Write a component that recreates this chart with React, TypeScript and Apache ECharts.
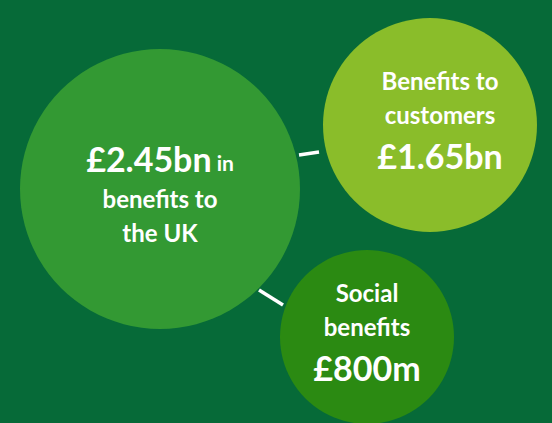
import React, { useEffect, useRef } from "react";
import * as echarts from "echarts";

const names = ["uk", "customers", "social"];
const centersX = [160, 430, 367];
const centersY = [189, 125, 337];
const radii = [140, 107, 87];
const colors = ["#339933", "#8abd2a", "#2b8a12"];
const labelLines = [
  ["{big|£2.45bn}{small| in}", "{mid|benefits to}", "{mid|the UK}"],
  ["{mid|Benefits to}", "{mid|customers}", "{big|£1.65bn}"],
  ["{mid|Social}", "{mid|benefits}", "{big|£800m}"],
];
const labelOffsets = [[0, 3], [10, -4], [0, -4]];

export default function App() {
  const ref = useRef<HTMLDivElement>(null);
  useEffect(() => {
    const chart = echarts.init(ref.current!, undefined, { renderer: "svg" });
    const font = "Lato, 'Open Sans', sans-serif";
    const rich = {
      big: { fontSize: 34, fontWeight: "bold", color: "#fff", fontFamily: font, lineHeight: 47 },
      mid: { fontSize: 24, fontWeight: "bold", color: "#fff", fontFamily: font, lineHeight: 34 },
      small: { fontSize: 21, fontWeight: "bold", color: "#fff", fontFamily: font, lineHeight: 30, padding: [9, 0, 0, 0] },
    };
    chart.setOption({
      animation: false,
      backgroundColor: "#066a38",
      grid: { left: 0, right: 0, top: 0, bottom: 0 },
      xAxis: { type: "value", min: 0, max: 552, show: false },
      yAxis: { type: "value", min: 0, max: 423, inverse: true, show: false },
      series: [
        {
          type: "scatter",
          data: names.map((n, i) => ({
            name: n,
            value: [centersX[i], centersY[i]],
            symbolSize: radii[i] * 2,
            itemStyle: { color: colors[i], opacity: 1 },
            label: {
              show: true,
              position: "inside",
              offset: labelOffsets[i],
              formatter: labelLines[i].join("\n"),
              rich,
              align: "center",
            },
          })),
          symbol: "circle",
          emphasis: { disabled: true },
        },
      ],
      graphic: [
        { type: "line", shape: { x1: 299, y1: 155, x2: 319, y2: 152 }, style: { stroke: "#fff", lineWidth: 3.5 } },
        { type: "line", shape: { x1: 259, y1: 290, x2: 283, y2: 305 }, style: { stroke: "#fff", lineWidth: 3.5 } },
      ],
    });
    return () => chart.dispose();
  }, []);
  return <div ref={ref} style={{ position: "fixed", left: 0, top: 0, width: 552, height: 423 }} />;
}
